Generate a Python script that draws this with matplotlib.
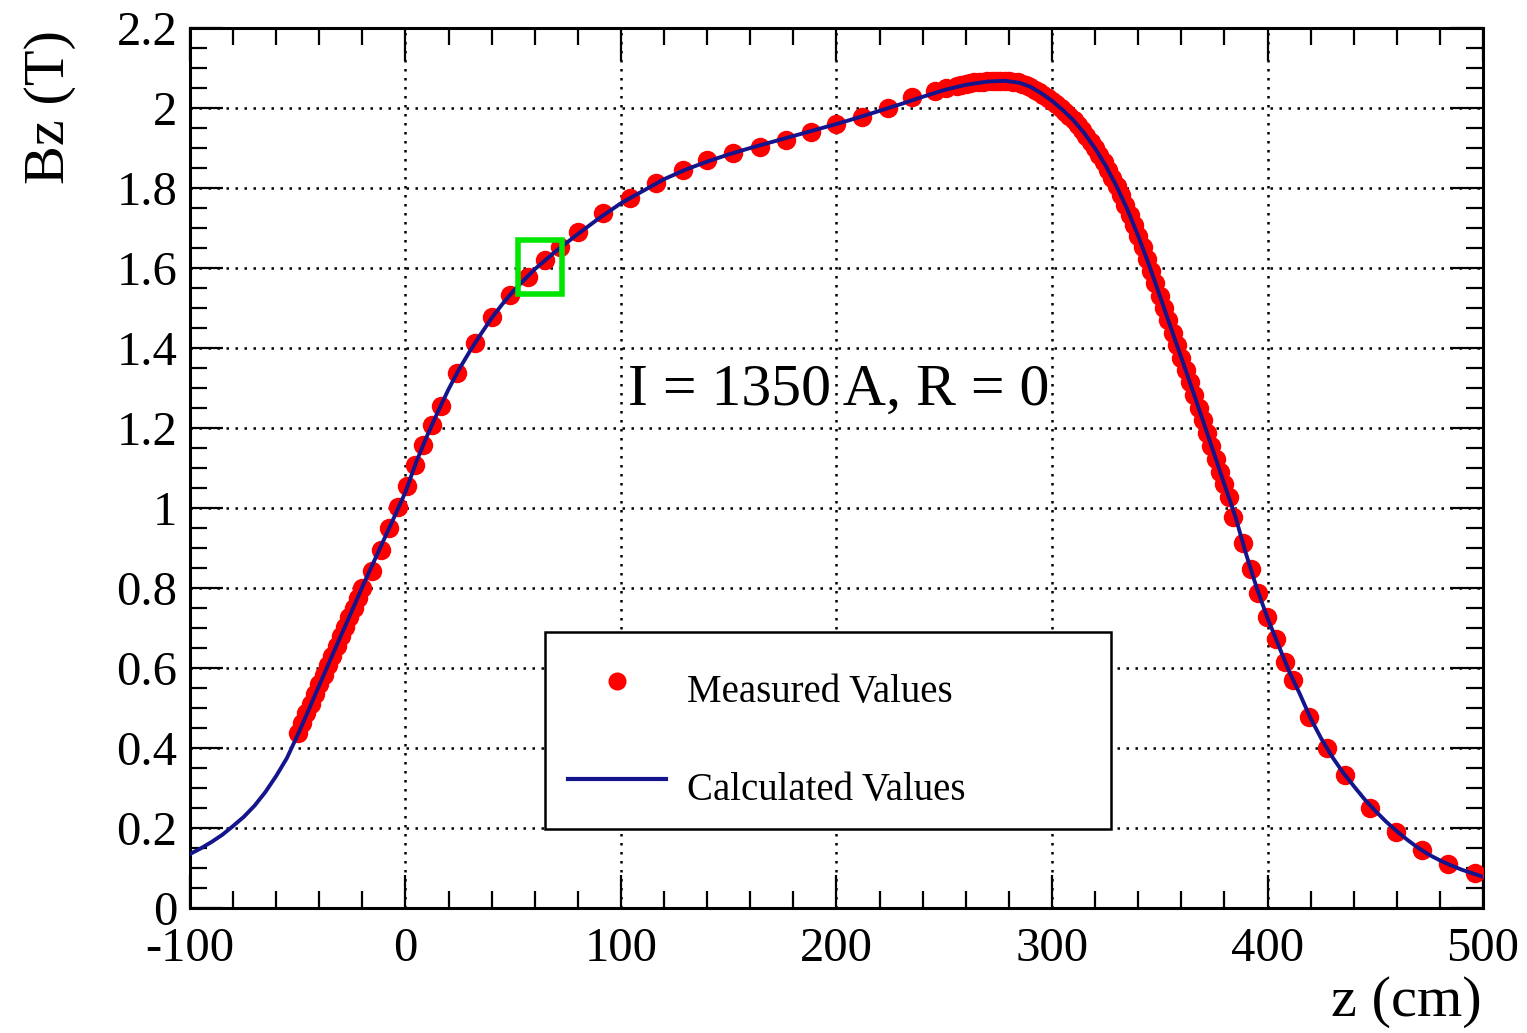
import numpy as np
import matplotlib
matplotlib.use("Agg")
import matplotlib.pyplot as plt
from matplotlib.patches import Rectangle
from matplotlib.ticker import MultipleLocator, FuncFormatter

plt.rcParams['font.family'] = ['Liberation Serif', 'DejaVu Serif']
plt.rcParams['axes.unicode_minus'] = False

# calculated field on axis (z in cm, Bz in T)
calc_z = [-100, -95, -90, -85, -80, -75, -70, -65, -60, -55, -50, -45, -40, -35, -30,
          -25, -20, -15, -10, -5, 0, 5, 10, 15, 20, 25, 30, 35, 40, 45, 50, 55, 60,
          65, 70, 80, 90, 100, 110, 120, 130, 140, 150, 160, 170, 180, 190, 200,
          210, 220, 230, 240, 250, 260, 270, 278, 285, 290, 295, 300, 305, 310,
          315, 320, 325, 330, 335, 340, 345, 350, 355, 360, 365, 370, 375, 380,
          385, 390, 395, 400, 405, 410, 415, 420, 425, 430, 435, 440, 445, 450,
          455, 460, 465, 470, 475, 480, 485, 490, 495, 500]
calc_b = [0.135, 0.149, 0.165, 0.183, 0.205, 0.228, 0.256, 0.290, 0.330, 0.375, 0.433,
          0.494, 0.557, 0.619, 0.680, 0.741, 0.803, 0.862, 0.921, 0.980, 1.040,
          1.115, 1.180, 1.240, 1.297, 1.348, 1.393, 1.435, 1.475, 1.510, 1.542,
          1.570, 1.597, 1.620, 1.643, 1.685, 1.725, 1.762, 1.792, 1.822, 1.846,
          1.866, 1.884, 1.900, 1.915, 1.930, 1.945, 1.960, 1.976, 1.993, 2.010,
          2.028, 2.045, 2.058, 2.066, 2.068, 2.063, 2.053, 2.037, 2.018, 1.995,
          1.969, 1.937, 1.899, 1.855, 1.804, 1.746, 1.680, 1.608, 1.531, 1.453,
          1.376, 1.298, 1.219, 1.139, 1.059, 0.980, 0.886, 0.800, 0.725, 0.658,
          0.592, 0.535, 0.474, 0.423, 0.378, 0.339, 0.305, 0.272, 0.243, 0.216,
          0.192, 0.170, 0.150, 0.133, 0.119, 0.107, 0.096, 0.087, 0.078]

# measured values
meas_z = [-50, -48, -46, -44, -42, -40, -38, -36, -34, -32, -30, -28, -26, -24, -22, -20,
          -15.7, -11.4, -7.5, -3.3, 0.6, 4.4, 8.2, 12.1, 16.3, 24, 32.3, 40.3, 48.5,
          57, 64.7, 71.7, 80.2, 91.8, 104.2, 116.2, 128.8, 140, 152, 164.5, 176.6,
          188, 199.8, 212, 224, 235, 245.7, 251,
          256, 258, 260, 262, 264, 266, 268, 270, 272, 274, 276, 278, 280, 282, 284,
          286, 288, 290, 292, 294, 296, 298, 300, 302, 304, 306, 308, 310, 312, 314,
          316, 318, 320, 322, 324, 326, 328, 330, 332, 334, 336, 338, 340, 342, 344,
          346, 348, 350, 352, 354, 356, 358, 360, 362, 364, 366, 368, 370, 372, 374,
          376, 378, 380, 382,
          384, 388.5, 392.2, 395.7, 399.6, 403.8, 408.1, 411.7, 419.4, 427.8, 436,
          447.6, 459.6, 471.5, 483.9, 496.3]
meas_b = [0.437, 0.462, 0.487, 0.511, 0.535, 0.559, 0.583, 0.607, 0.631, 0.655, 0.679,
          0.703, 0.727, 0.751, 0.776, 0.800,
          0.843, 0.895, 0.949, 1.003, 1.055, 1.107, 1.157, 1.207, 1.255, 1.338,
          1.412, 1.478, 1.532, 1.578, 1.620, 1.653, 1.690, 1.737, 1.774, 1.812,
          1.845, 1.870, 1.888, 1.903, 1.920, 1.940, 1.960, 1.978, 2.000, 2.027,
          2.043, 2.050,
          2.056, 2.058, 2.060, 2.062, 2.064, 2.065, 2.066, 2.067, 2.068, 2.068,
          2.068, 2.068, 2.067, 2.066, 2.064, 2.061, 2.057, 2.052, 2.046, 2.040,
          2.033, 2.026, 2.018, 2.009, 2.000, 1.990, 1.980, 1.969, 1.957, 1.944,
          1.930, 1.915, 1.899, 1.882, 1.864, 1.845, 1.825, 1.804, 1.782, 1.758,
          1.733, 1.707, 1.680, 1.652, 1.623, 1.593, 1.562, 1.531, 1.500, 1.469,
          1.438, 1.407, 1.376, 1.345, 1.314, 1.283, 1.251, 1.219, 1.187, 1.155,
          1.123, 1.091, 1.059, 1.027,
          0.978, 0.912, 0.847, 0.788, 0.728, 0.672, 0.616, 0.570, 0.477, 0.399,
          0.333, 0.249, 0.189, 0.145, 0.111, 0.087]

label_meas = "Measured Values"
label_calc = "Calculated Values"
note = "I = 1350 A, R = 0"
highlight = [52, 1.535, 72.6, 1.67]   # green marker box (z0, b0, z1, b1)

fig = plt.figure(figsize=(15.27, 10.33), dpi=100)
ax = fig.add_axes([0.1244, 0.121, 0.8468, 0.8519])

red = '#ff0000'
blue = '#14148c'

ax.plot(meas_z, meas_b, 'o', color=red, markersize=14, markeredgewidth=0, zorder=3)
ax.plot(calc_z, calc_b, '-', color=blue, lw=2.8, zorder=4)

ax.add_patch(Rectangle((highlight[0], highlight[1]), highlight[2] - highlight[0],
                       highlight[3] - highlight[1], fill=False, edgecolor='#00e600',
                       lw=4, zorder=6))

ax.set_xlim(-100, 500)
ax.set_ylim(0, 2.2)
ax.xaxis.set_major_locator(MultipleLocator(100))
ax.xaxis.set_minor_locator(MultipleLocator(20))
ax.yaxis.set_major_locator(MultipleLocator(0.2))
ax.yaxis.set_minor_locator(MultipleLocator(0.05))
ax.yaxis.set_major_formatter(FuncFormatter(lambda v, p: '%g' % round(v, 2)))
ax.xaxis.set_major_formatter(FuncFormatter(lambda v, p: '%d' % round(v)))

ax.tick_params(which='both', direction='in', top=True, right=True, width=1.6, color='black')
ax.tick_params(which='major', length=24, labelsize=35)
ax.tick_params(which='minor', length=12)
ax.tick_params(axis='y', which='major', pad=9)
ax.tick_params(axis='x', which='major', pad=14)
for s in ax.spines.values():
    s.set_linewidth(2.2)

ax.grid(True, which='major', color='black', linestyle=(0, (1, 2.6)), lw=1.8, zorder=1)
ax.set_axisbelow(True)

ax.set_ylabel("Bz (T)", fontsize=42, ha='center', va='center')
ax.yaxis.set_label_coords(-0.108, 0.91)
ax.set_xlabel("z (cm)", fontsize=42, ha='center', va='center')
ax.xaxis.set_label_coords(0.9405, -0.107)

ax.text(201, 1.2575, note, fontsize=43, ha='center', va='baseline', zorder=5)

# legend box drawn by hand to match the frame
ax.add_patch(Rectangle((0.2746, 0.0898), 0.4377, 0.2239, transform=ax.transAxes,
                       facecolor='white', edgecolor='black', lw=1.8, zorder=7))
ax.plot([0.3302], [0.258], 'o', color=red, markersize=13, markeredgewidth=0,
        transform=ax.transAxes, zorder=8, clip_on=False)
ax.plot([0.2923, 0.3681], [0.1466, 0.1466], '-', color=blue, lw=3,
        transform=ax.transAxes, zorder=8, clip_on=False)
ax.text(0.3844, 0.234, label_meas, fontsize=28, transform=ax.transAxes,
        va='baseline', ha='left', zorder=8)
ax.text(0.3844, 0.1227, label_calc, fontsize=28, transform=ax.transAxes,
        va='baseline', ha='left', zorder=8)

fig.savefig("out.png", dpi=100)
